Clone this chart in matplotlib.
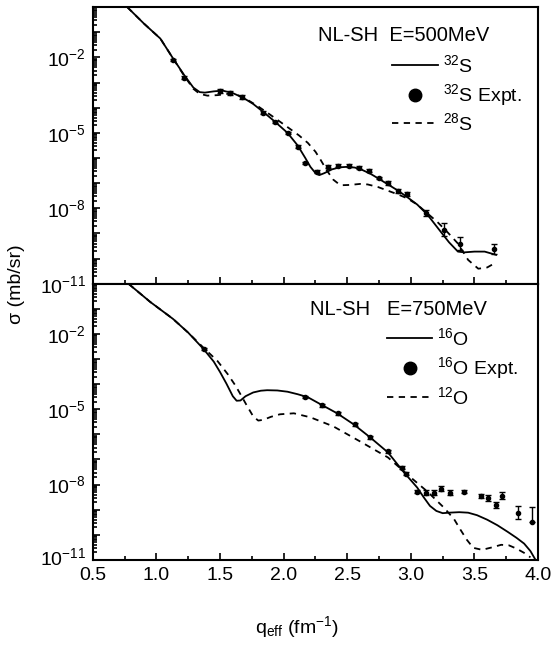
import numpy as np
import matplotlib
matplotlib.use("Agg")
import matplotlib.pyplot as plt
import matplotlib.transforms as mtransforms
from matplotlib.ticker import FixedLocator, LogLocator, NullFormatter, MultipleLocator

plt.rcParams["font.family"] = ["Liberation Sans", "DejaVu Sans"]
plt.rcParams["mathtext.fontset"] = "custom"
plt.rcParams["mathtext.rm"] = "Liberation Sans"
plt.rcParams["mathtext.it"] = "Liberation Sans"

# ---- top panel: 32S / 28S at 500 MeV (log10 sigma) ----
s32_q = [0.77, 0.90, 1.03, 1.13, 1.22, 1.29, 1.34, 1.38, 1.45, 1.52, 1.60, 1.68, 1.76,
         1.84, 1.93, 2.03, 2.11, 2.17, 2.21, 2.25, 2.28, 2.32, 2.38, 2.44, 2.50, 2.56,
         2.62, 2.68, 2.74, 2.82, 2.90, 2.97, 3.05, 3.13, 3.23, 3.30, 3.37, 3.42, 3.50,
         3.58, 3.67]
s32_lg = [0.0, -0.65, -1.25, -2.04, -2.72, -3.2, -3.38, -3.4, -3.35, -3.32, -3.42,
          -3.6, -3.85, -4.17, -4.55, -5.0, -5.5, -6.0, -6.35, -6.6, -6.68, -6.6, -6.45,
          -6.37, -6.35, -6.38, -6.48, -6.62, -6.8, -7.05, -7.3, -7.55, -7.85, -8.25,
          -8.9, -9.35, -9.72, -9.75, -9.72, -9.72, -9.85]
s28_q = [0.77, 0.90, 1.03, 1.13, 1.22, 1.29, 1.34, 1.40, 1.48, 1.56, 1.64, 1.72, 1.80,
         1.90, 2.03, 2.12, 2.19, 2.25, 2.29, 2.34, 2.39, 2.43, 2.46, 2.52, 2.60, 2.66,
         2.74, 2.82, 2.90, 2.97, 3.05, 3.13, 3.21, 3.29, 3.37, 3.45, 3.53, 3.60, 3.67]
s28_lg = [0.0, -0.65, -1.25, -2.04, -2.75, -3.25, -3.45, -3.52, -3.5, -3.45, -3.5,
          -3.7, -3.95, -4.3, -4.77, -5.1, -5.4, -5.75, -6.07, -6.5, -6.86, -7.02, -7.08,
          -7.07, -7.03, -7.05, -7.15, -7.3, -7.45, -7.6, -7.85, -8.2, -8.55, -8.96,
          -9.4, -10.05, -10.4, -10.35, -10.15]
s32x_q = [1.13, 1.22, 1.50, 1.58, 1.67, 1.84, 1.93, 2.03, 2.11, 2.17, 2.26, 2.35,
          2.43, 2.51, 2.59, 2.67, 2.75, 2.82, 2.90, 2.97, 3.12, 3.26, 3.39, 3.65]
s32x_lg = [-2.1, -2.8, -3.34, -3.42, -3.58, -4.2, -4.56, -5.0, -5.55, -6.2, -6.54, -6.34,
           -6.3, -6.3, -6.38, -6.5, -6.8, -7.0, -7.33, -7.42, -8.2, -8.85, -9.4, -9.6]
s32x_err = [0.05, 0.05, 0.08, 0.08, 0.08, 0.05, 0.05, 0.05, 0.05, 0.05, 0.05, 0.05,
            0.05, 0.05, 0.05, 0.05, 0.05, 0.08, 0.08, 0.08, 0.12, 0.25, 0.25, 0.2]

# ---- bottom panel: 16O / 12O at 750 MeV ----
o16_q = [0.78, 0.95, 1.13, 1.25, 1.37, 1.45, 1.50, 1.55, 1.60, 1.63, 1.66, 1.70, 1.76,
         1.82, 1.87, 1.95, 2.03, 2.11, 2.19, 2.29, 2.42, 2.55, 2.68, 2.82, 2.94, 3.05,
         3.10, 3.15, 3.20, 3.25, 3.30, 3.38, 3.45, 3.52, 3.60, 3.68, 3.76, 3.83, 3.89,
         3.94, 3.98]
o16_lg = [0.0, -0.72, -1.4, -1.95, -2.6, -3.1, -3.52, -3.98, -4.48, -4.66, -4.65, -4.48,
          -4.33, -4.26, -4.24, -4.25, -4.3, -4.4, -4.52, -4.8, -5.16, -5.6, -6.12, -6.72,
          -7.48, -8.12, -8.5, -8.85, -9.05, -9.14, -9.12, -9.1, -9.12, -9.22, -9.4,
          -9.62, -9.88, -10.12, -10.35, -10.65, -11.0]
o12_q = [0.78, 0.95, 1.13, 1.25, 1.37, 1.48, 1.56, 1.62, 1.66, 1.71, 1.76, 1.80, 1.84,
         1.90, 1.97, 2.08, 2.21, 2.39, 2.60, 2.82, 3.00, 3.13, 3.26, 3.34, 3.39, 3.44,
         3.49, 3.56, 3.64, 3.71, 3.77, 3.83, 3.89, 3.94]
o12_lg = [0.0, -0.72, -1.4, -1.95, -2.55, -3.08, -3.6, -4.05, -4.4, -4.85, -5.28, -5.45,
          -5.42, -5.3, -5.2, -5.16, -5.32, -5.68, -6.28, -6.92, -7.72, -8.28, -8.92,
          -9.38, -9.8, -10.2, -10.52, -10.6, -10.5, -10.4, -10.42, -10.55, -10.72, -10.9]
o16x_q = [1.37, 2.17, 2.30, 2.43, 2.56, 2.68, 2.82, 2.93, 2.96, 3.05, 3.12, 3.18,
          3.24, 3.31, 3.42, 3.55, 3.61, 3.67, 3.72, 3.84, 3.95]
o16x_lg = [-2.6, -4.52, -4.84, -5.16, -5.6, -6.12, -6.68, -7.32, -7.56, -8.28, -8.32,
           -8.32, -8.16, -8.32, -8.28, -8.44, -8.52, -8.8, -8.44, -9.12, -9.48]
o16x_lo = [0.05] * 9 + [0.05, 0.1, 0.1, 0.1, 0.1, 0.05, 0.08, 0.12, 0.12, 0.15, 0.25, 0.02]
o16x_hi = [0.05] * 9 + [0.05, 0.1, 0.1, 0.1, 0.1, 0.05, 0.08, 0.12, 0.12, 0.15, 0.25, 0.6]

xticks = [0.5, 1.0, 1.5, 2.0, 2.5, 3.0, 3.5, 4.0]
xticklabels = ["0.5", "1.0", "1.5", "2.0", "2.5", "3.0", "3.5", "4.0"]
ylabel_pows = [-2, -5, -8, -11]

DASH = (3.5, 3)


def to_sig(lg):
    return 10.0 ** np.asarray(lg)


def setup(ax):
    ax.set_xlim(0.5, 4.0)
    ax.set_ylim(1e-11, 1e0)
    ax.set_yscale("log")
    ax.yaxis.set_major_locator(FixedLocator([10.0 ** p for p in range(-11, 1)]))
    ax.yaxis.set_minor_locator(LogLocator(base=10, subs=np.arange(2, 10), numticks=30))
    ax.yaxis.set_minor_formatter(NullFormatter())
    ax.set_yticklabels([f"$10^{{{p}}}$" if p in ylabel_pows else ""
                        for p in range(-11, 1)])
    ax.xaxis.set_major_locator(FixedLocator(xticks))
    ax.xaxis.set_minor_locator(MultipleLocator(0.25))
    ax.tick_params(which="both", direction="in", top=False, right=False,
                   labelsize=14, width=1.2)
    ax.tick_params(axis="y", pad=5)
    ax.tick_params(axis="x", pad=5)
    ax.tick_params(which="major", length=5)
    ax.tick_params(which="minor", length=3)
    for s in ax.spines.values():
        s.set_linewidth(1.5)


def errs(lg, lo, hi):
    y = to_sig(lg)
    return y, [y - y * 10.0 ** -np.asarray(lo), y * 10.0 ** np.asarray(hi) - y]


def legend_block(ax, title, tx, ty, ly, lx, dotx, names):
    tr = ax.transAxes
    ax.text(tx, ty, title, transform=tr, fontsize=14.5, va="center")
    ax.plot(lx, [ly[0]] * 2, "k-", lw=1.3, transform=tr)
    ax.text(lx[1] + 0.012, ly[0], names[0], transform=tr, fontsize=14, va="center")
    ax.plot([dotx], [ly[1]], "ko", ms=9, transform=tr)
    ax.text(lx[1] + 0.012, ly[1], names[1], transform=tr, fontsize=14, va="center")
    ax.plot(lx, [ly[2]] * 2, "k--", lw=1.3, dashes=DASH, transform=tr)
    ax.text(lx[1] + 0.012, ly[2], names[2], transform=tr, fontsize=14, va="center")


fig = plt.figure(figsize=(5.53, 6.45), dpi=100)
ax1 = fig.add_axes([0.168, 0.560, 0.805, 0.429])
ax2 = fig.add_axes([0.168, 0.132, 0.805, 0.428])

# top
setup(ax1)
ax1.set_xticklabels([])
ax1.plot(s32_q, to_sig(s32_lg), "k-", lw=1.3)
ax1.plot(s28_q, to_sig(s28_lg), "k--", lw=1.3, dashes=DASH)
y, ye = errs(s32x_lg, s32x_err, s32x_err)
ax1.errorbar(s32x_q, y, yerr=ye, fmt="o", ms=3, color="k", elinewidth=1, capsize=2)
legend_block(ax1, "NL-SH  E=500MeV", 0.506, 0.899, [0.791, 0.682, 0.581],
             [0.672, 0.775], 0.724, ["$^{32}$S", "$^{32}$S Expt.", "$^{28}$S"])

# bottom
setup(ax2)
ax2.set_xticklabels(xticklabels)
ax2.plot(o16_q, to_sig(o16_lg), "k-", lw=1.3)
ax2.plot(o12_q, to_sig(o12_lg), "k--", lw=1.3, dashes=DASH)
y, ye = errs(o16x_lg, o16x_lo, o16x_hi)
ax2.errorbar(o16x_q, y, yerr=ye, fmt="o", ms=3, color="k", elinewidth=1, capsize=2)
legend_block(ax2, "NL-SH   E=750MeV", 0.488, 0.906, [0.804, 0.696, 0.591],
             [0.661, 0.762], 0.712, ["$^{16}$O", "$^{16}$O Expt.", "$^{12}$O"])

# lift the lowest y label a little so it clears the "0.5" below it
fig.canvas.draw()
lab = ax2.get_yticklabels()[0]
lab.set_transform(lab.get_transform() +
                  mtransforms.ScaledTranslation(0, 3 / 72, fig.dpi_scale_trans))

fig.text(0.537, 0.028, "q$_{\\mathregular{eff}}$ (fm$^{-1}$)", ha="center", va="center",
         fontsize=14)
fig.text(0.03, 0.56, "σ (mb/sr)", rotation=90, ha="center", va="center", fontsize=14)

fig.savefig("out.png", dpi=100)
